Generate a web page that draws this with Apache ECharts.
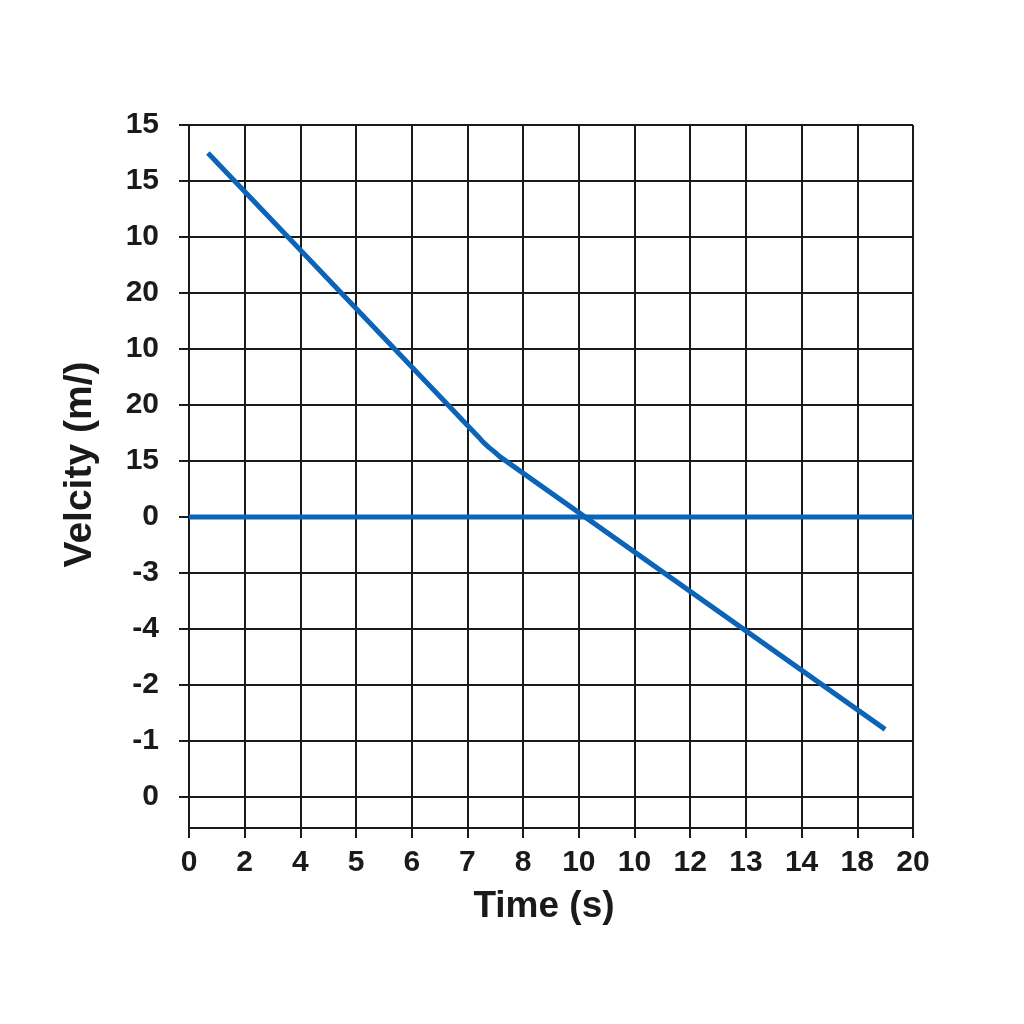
<!DOCTYPE html>
<html>
<head>
<meta charset="utf-8">
<script src="https://cdn.jsdelivr.net/npm/echarts@6/dist/echarts.min.js"></script>
<style>html,body{margin:0;padding:0;background:#fff}#c{width:1024px;height:1024px}</style>
</head>
<body>
<div id="c"></div>
<script>
// Tick labels as printed (index = grid line position)
const xTickLabels = ['0','2','4','5','6','7','8','10','10','12','13','14','18','20'];
const yTickLabels = ['0','-1','-2','-4','-3','0','15','20','10','20','10','15','15'];
// Velocity trace (x = grid index, y = grid index)
const velocityX = [0.34, 5.19, 5.29, 5.39, 5.49, 5.58, 12.50];
const velocityY = [11.50, 6.44, 6.33, 6.24, 6.16, 6.08, 1.21];
// Zero reference line
const zeroX = [0, 13];
const zeroY = [5, 5];

const yTickValues = yTickLabels.map((_, i) => i);
const chart = echarts.init(document.getElementById('c'));
const font = '"Liberation Sans", Arial, sans-serif';
const ink = '#1a1a1a';
const blue = '#0b64b7';
chart.setOption({
  animation: false,
  backgroundColor: '#fff',
  grid: { left: 189, right: 111, top: 125, bottom: 196, containLabel: false },
  xAxis: {
    type: 'value', min: 0, max: 13, interval: 1,
    name: 'Time (s)', nameLocation: 'middle', nameGap: 60,
    nameTextStyle: { fontFamily: font, fontWeight: 'bold', fontSize: 37, color: ink, padding: [0, 14, 0, 0] },
    axisLine: { show: true, onZero: false, lineStyle: { color: ink, width: 2 } },
    axisTick: { show: true, length: 10, lineStyle: { color: ink, width: 2 } },
    splitLine: { show: true, lineStyle: { color: ink, width: 2 } },
    axisLabel: { margin: 20, fontFamily: font, fontWeight: 'bold', fontSize: 30, color: ink,
      formatter: v => (Number.isInteger(v) ? (xTickLabels[v] ?? '') : '') }
  },
  yAxis: {
    type: 'value', min: -0.55, max: 12, splitNumber: 13,
    name: 'Velcity (m/)', nameLocation: 'middle', nameGap: 89,
    nameTextStyle: { fontFamily: font, fontWeight: 'bold', fontSize: 39, color: ink, padding: [0, 0, 0, 24] },
    axisLine: { show: true, onZero: false, lineStyle: { color: ink, width: 2 } },
    axisTick: { show: true, length: 10, customValues: yTickValues, lineStyle: { color: ink, width: 2 } },
    splitLine: { show: true, lineStyle: { color: ink, width: 2 } },
    axisLabel: { margin: 30, customValues: yTickValues, fontFamily: font, fontWeight: 'bold', fontSize: 30, color: ink,
      formatter: v => (Number.isInteger(v) ? (yTickLabels[v] ?? '') : '') }
  },
  series: [
    { type: 'line', data: zeroX.map((x, i) => [x, zeroY[i]]), showSymbol: false,
      lineStyle: { color: blue, width: 5 }, z: 3 },
    { type: 'line', data: velocityX.map((x, i) => [x, velocityY[i]]), showSymbol: false,
      lineStyle: { color: blue, width: 5, cap: 'butt', join: 'round' }, z: 4 }
  ]
});
</script>
</body>
</html>
